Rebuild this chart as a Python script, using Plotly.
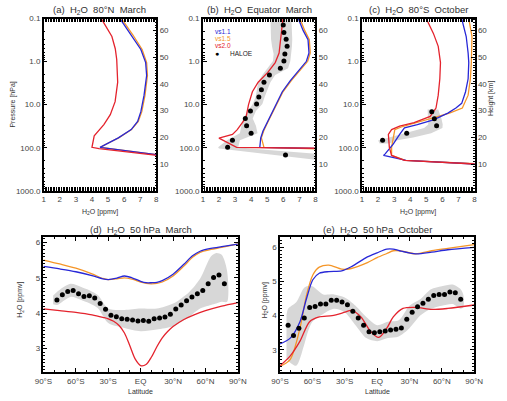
import plotly.graph_objects as go

W, H = 507, 401
BLUE = "rgb(40,40,215)"
ORANGE = "rgb(245,150,40)"
RED = "rgb(228,35,45)"
BAND = "rgb(215,215,215)"
FONT = "Liberation Sans, Arial, sans-serif"

# ---------------- Panel (a): 80N March ----------------
a_red_p = [0.1, 0.26, 0.5, 0.89, 3.0, 8.5, 17, 29, 53, 75, 98, 105, 150, 165]
a_red_x = [4.58, 5.24, 5.45, 5.54, 5.6, 5.44, 5.14, 4.74, 4.14, 4.04, 4.0, 4.44, 8.0, 9.0]
a_blue_p = [0.1, 0.24, 0.52, 1.05, 2.1, 6, 14.5, 24.6, 38, 59, 83, 98, 145, 160]
a_blue_x = [5.74, 6.44, 7.04, 7.34, 7.4, 7.24, 7.04, 6.84, 6.44, 5.64, 4.84, 4.5, 8.0, 9.0]
a_orange_p = [0.1, 0.24, 0.52, 1.05, 2.1, 6, 14.5, 24.6, 38, 59, 83, 98, 145, 160]
a_orange_x = [5.84, 6.55, 7.12, 7.4, 7.45, 7.3, 7.1, 6.88, 6.46, 5.66, 4.86, 4.52, 8.0, 9.0]

# ---------------- Panel (b): Equator March ----------------
b_red_p = [0.1, 0.26, 0.63, 1.05, 1.78, 3.0, 5.0, 10, 20, 38, 49, 60, 98, 103, 108]
b_red_x = [5.98, 5.84, 5.74, 5.5, 5.04, 4.44, 4.08, 3.84, 3.68, 3.14, 2.84, 2.0, 3.1, 8.0, 9.0]
b_blue_p = [0.1, 0.19, 0.31, 0.63, 0.98, 1.48, 2.75, 5.0, 8.5, 14.5, 24.7, 41, 59, 98, 104, 108]
b_blue_x = [6.94, 7.24, 7.54, 7.6, 7.44, 7.04, 6.44, 5.94, 5.64, 5.34, 5.04, 4.74, 4.6, 4.54, 8.0, 9.0]
b_orange_p = [0.1, 0.19, 0.31, 0.63, 0.98, 1.48, 2.75, 5.0, 8.5, 14.5, 24.7, 41, 59, 98, 104, 108]
b_orange_x = [7.04, 7.34, 7.62, 7.68, 7.52, 7.1, 6.5, 5.98, 5.66, 5.36, 5.06, 4.78, 4.64, 4.8, 8.0, 9.0]
b_haloe_p = [0.097, 0.14, 0.21, 0.30, 0.44, 0.66, 0.97, 1.42, 2.05, 3.0, 4.5, 6.6, 9.7,
             14.1, 21, 31, 46, 67, 98, 147]
b_haloe_x = [6.16, 6.0, 6.04, 6.18, 6.24, 6.1, 6.04, 5.82, 5.14, 4.8, 4.64, 4.48, 4.34,
             3.96, 3.64, 3.72, 4.0, 2.84, 2.54, 6.14]
b_band_p = [0.09, 0.14, 0.21, 0.30, 0.44, 0.66, 0.97, 1.42, 2.05, 3.0, 4.5, 6.6, 9.7,
            14.1, 21, 31, 46, 67, 98, 105, 147, 190]
b_band_lo = [5.2, 5.2, 5.22, 5.24, 5.3, 5.4, 5.36, 5.04, 4.7, 4.44, 4.36, 4.28, 4.1,
             3.8, 3.5, 3.4, 3.3, 2.5, 1.95, 2.0, 5.4, 8.0]
b_band_hi = [6.5, 6.54, 6.55, 6.56, 6.54, 6.5, 6.44, 6.3, 5.5, 5.2, 5.0, 4.84, 4.7,
             4.3, 4.1, 4.3, 4.4, 3.3, 3.2, 3.9, 9.0, 9.0]

# ---------------- Panel (c): 80S October ----------------
c_red_p = [0.1, 0.22, 0.44, 1.05, 2.5, 6, 12, 18.7, 26, 31.6, 38, 49, 98, 151, 198, 236, 250]
c_red_x = [5.0, 5.44, 5.74, 5.88, 5.84, 5.74, 5.6, 5.24, 4.24, 3.34, 2.84, 2.64, 2.7, 2.84,
           3.64, 8.0, 9.0]
c_blue_p = [0.1, 0.26, 0.63, 1.05, 2.5, 5.0, 9.3, 12, 15.7, 22.5, 29, 34.5, 49, 83, 139,
            151, 198, 236, 250]
c_blue_x = [7.2, 7.48, 7.6, 7.64, 7.6, 7.44, 7.2, 6.84, 6.34, 5.44, 4.44, 3.64, 3.34, 2.94,
            2.44, 2.34, 3.74, 8.0, 9.0]
c_orange_p = [0.1, 0.26, 1.05, 2.5, 6, 8.5, 12, 15.7, 20, 26, 33, 38, 70, 98, 151, 198, 236, 250]
c_orange_x = [7.64, 7.84, 7.8, 7.74, 7.6, 7.44, 7.24, 6.44, 5.44, 4.44, 3.44, 3.04, 2.94,
              2.84, 2.84, 3.7, 8.0, 9.0]
c_haloe_p = [14.5, 21.3, 31, 46, 67]
c_haloe_x = [5.34, 5.5, 5.64, 3.78, 2.28]
c_band_p = [13, 21, 29, 35, 46, 58, 68, 80]
c_band_lo = [5.08, 5.08, 5.12, 4.86, 3.68, 2.64, 2.0, 2.1]
c_band_hi = [5.74, 5.94, 6.02, 6.0, 5.3, 4.18, 3.1, 2.7]

# ---------------- Panel (d): 50 hPa March ----------------
d_lat = [-90, -75, -60, -45, -35, -30, -22, -15, -8, 0, 5, 10, 15, 20, 30, 40, 48, 55, 65, 75, 90]
d_blue = [5.32, 5.25, 5.17, 5.06, 4.97, 4.95, 4.99, 5.05, 5.0, 4.9, 4.86, 4.86, 4.87, 4.92,
          5.1, 5.38, 5.62, 5.75, 5.83, 5.88, 5.95]
d_orange = [5.5, 5.39, 5.27, 5.11, 4.98, 4.95, 4.97, 5.0, 4.96, 4.88, 4.84, 4.83, 4.84,
            4.88, 5.05, 5.33, 5.58, 5.72, 5.8, 5.86, 5.96]
d_red_lat = [-90, -75, -60, -45, -35, -30, -25, -20, -15, -10, -5, 0, 5, 10, 15, 20, 25,
             30, 40, 50, 60, 75, 90]
d_red = [4.12, 4.07, 4.02, 3.95, 3.88, 3.84, 3.77, 3.65, 3.44, 3.08, 2.7, 2.52, 2.55, 2.76,
         3.05, 3.3, 3.48, 3.62, 3.82, 3.96, 4.07, 4.2, 4.3]
d_haloe_lat = [-77.5 + 5 * i for i in range(32)]
d_haloe = [4.37, 4.52, 4.61, 4.64, 4.55, 4.47, 4.49, 4.43, 4.27, 4.11, 3.94, 3.90, 3.84,
           3.83, 3.81, 3.78, 3.79, 3.77, 3.84, 3.86, 3.89, 3.97, 4.12, 4.23, 4.35, 4.46,
           4.55, 4.64, 4.83, 5.01, 5.08, 4.83]
d_band_lat = [-81, -77.5, -65, -55, -40, -30, -15, 0, 15, 30, 45, 55, 65, 70, 75, 80]
d_band_lo = [4.25, 4.23, 4.46, 4.37, 4.15, 3.72, 3.58, 3.49, 3.54, 3.63, 3.9, 4.13, 4.23,
             4.27, 4.32, 4.32]
d_band_hi = [4.5, 4.6, 4.83, 4.74, 4.52, 4.13, 4.09, 4.13, 4.13, 4.27, 4.6, 4.97, 5.6,
             5.7, 5.65, 5.2]

# ---------------- Panel (e): 50 hPa October ----------------
e_lat = [-90, -80.5, -71.5, -65.6, -59.6, -53.6, -44.7, -32.8, -24, -9, 0, 9, 15, 20.9,
         35.8, 50.7, 65.5, 90]
e_blue = [3.17, 3.34, 3.82, 4.48, 5.05, 5.24, 5.29, 5.31, 5.43, 5.72, 5.84, 5.95, 5.95,
          5.9, 5.81, 5.86, 5.93, 6.0]
e_orange = [2.51, 2.72, 3.63, 4.58, 5.19, 5.42, 5.48, 5.36, 5.38, 5.55, 5.7, 5.82, 5.9,
            5.9, 5.81, 5.9, 5.97, 6.08]
e_red_lat = [-90, -80.5, -71.5, -62.6, -53.6, -41.7, -29.8, -24, -15, -5.9, 1.5, 9, 15,
             24, 35.8, 50.7, 65.5, 90]
e_red = [2.53, 2.82, 3.25, 3.82, 3.96, 4.0, 4.1, 4.15, 3.96, 3.53, 3.36, 3.63, 3.96, 4.21,
         4.24, 4.18, 4.21, 4.31]
e_haloe_lat = [-82.5 + 5 * i for i in range(33)]
e_haloe = [3.72, 3.42, 3.63, 3.93, 4.24, 4.27, 4.34, 4.34, 4.45, 4.45, 4.40, 4.32, 4.13,
           3.93, 3.72, 3.53, 3.50, 3.53, 3.55, 3.58, 3.60, 3.64, 3.89, 4.10, 4.26, 4.36,
           4.48, 4.59, 4.62, 4.62, 4.69, 4.67, 4.48]
e_band_lat = [-84, -82.5, -75, -68, -65, -60, -50, -40, -30, -20, -10, 0, 10, 20, 30, 40,
              50, 60, 70, 77.5, 80]
e_band_lo = [2.75, 2.68, 2.53, 3.1, 3.44, 3.82, 4.05, 4.2, 4.1, 3.72, 3.34, 3.25, 3.34,
             3.39, 3.63, 4.0, 4.2, 4.29, 4.34, 4.2, 4.25]
e_band_hi = [4.0, 4.2, 4.39, 4.8, 4.86, 4.86, 4.62, 4.62, 4.53, 4.29, 3.96, 3.72, 3.82,
             3.86, 4.29, 4.48, 4.77, 4.86, 4.91, 4.77, 4.6]

fig = go.Figure()


def band(xa, ya, lo, hi, level, horizontal):
    if horizontal:  # profile panels: x is value, y is pressure
        xs = list(lo) + list(hi)[::-1]
        ys = list(level) + list(level)[::-1]
        shape = "linear"
    else:
        xs = list(level) + list(level)[::-1]
        ys = list(lo) + list(hi)[::-1]
        shape = "spline"
    fig.add_trace(go.Scatter(x=xs, y=ys, fill="toself", fillcolor=BAND, mode="lines",
                             line=dict(width=0, shape=shape, smoothing=0.8),
                             xaxis=xa, yaxis=ya, showlegend=False, hoverinfo="skip"))


def line(xa, ya, x, y, color, shape="linear"):
    fig.add_trace(go.Scatter(x=x, y=y, mode="lines",
                             line=dict(color=color, width=1.3, shape=shape, smoothing=0.8),
                             xaxis=xa, yaxis=ya, showlegend=False))


def dots(xa, ya, x, y):
    fig.add_trace(go.Scatter(x=x, y=y, mode="markers", marker=dict(color="black", size=5),
                             xaxis=xa, yaxis=ya, showlegend=False, cliponaxis=False))


# (a)
line("x", "y", a_orange_x, a_orange_p, ORANGE)
line("x", "y", a_blue_x, a_blue_p, BLUE)
line("x", "y", a_red_x, a_red_p, RED)
# (b)
band("x2", "y2", b_band_lo, b_band_hi, b_band_p, True)
line("x2", "y2", b_orange_x, b_orange_p, ORANGE)
line("x2", "y2", b_blue_x, b_blue_p, BLUE)
line("x2", "y2", b_red_x, b_red_p, RED)
dots("x2", "y2", b_haloe_x, b_haloe_p)
# (c)
band("x3", "y3", c_band_lo, c_band_hi, c_band_p, True)
line("x3", "y3", c_orange_x, c_orange_p, ORANGE)
line("x3", "y3", c_blue_x, c_blue_p, BLUE)
line("x3", "y3", c_red_x, c_red_p, RED)
dots("x3", "y3", c_haloe_x, c_haloe_p)
# (d)
band("x4", "y4", d_band_lo, d_band_hi, d_band_lat, False)
line("x4", "y4", d_lat, d_orange, ORANGE, "spline")
line("x4", "y4", d_lat, d_blue, BLUE, "spline")
line("x4", "y4", d_red_lat, d_red, RED, "spline")
dots("x4", "y4", d_haloe_lat, d_haloe)
# (e)
band("x5", "y5", e_band_lo, e_band_hi, e_band_lat, False)
line("x5", "y5", e_lat, e_orange, ORANGE, "spline")
line("x5", "y5", e_lat, e_blue, BLUE, "spline")
line("x5", "y5", e_red_lat, e_red, RED, "spline")
dots("x5", "y5", e_haloe_lat, e_haloe)

# invisible anchors for the height axes
HMAX = 7.0 * 9.2103404  # 7 km scale height, 1000 -> 0.1 hPa
for ya in ["y6", "y7", "y8"]:
    xa = {"y6": "x", "y7": "x2", "y8": "x3"}[ya]
    fig.add_trace(go.Scatter(x=[1], y=[10], mode="markers", marker=dict(opacity=0),
                             xaxis=xa, yaxis=ya, showlegend=False, hoverinfo="skip"))

TICKFONT = dict(family=FONT, size=8, color="#444")


def base(**kw):
    d = dict(showline=True, linecolor="black", linewidth=1.5, ticks="inside", ticklen=4,
             tickwidth=1, tickcolor="black", showgrid=False, zeroline=False,
             tickfont=TICKFONT, fixedrange=True)
    d.update(kw)
    return d


def px2x(p):
    return p / W


def px2y(p):
    return 1 - p / H


top_dom_y = [px2y(191), px2y(15)]
top_x_doms = [[px2x(36), px2x(152.7)], [px2x(201), px2x(317.7)], [px2x(366), px2x(482.7)]]
minor_p = [k * 10 ** e for e in range(-1, 3) for k in range(2, 10)]

layout = dict(width=W, height=H, margin=dict(l=0, r=0, t=0, b=0),
              paper_bgcolor="white", plot_bgcolor="white", showlegend=False,
              font=dict(family=FONT, size=8, color="#444"))

for i, dom in enumerate(top_x_doms):
    n = "" if i == 0 else str(i + 1)
    layout["xaxis" + n] = base(domain=dom, range=[1, 8], tickvals=list(range(1, 9)),
                               anchor="y" + n, mirror="allticks",
                               minor=dict(ticks="inside", ticklen=2, dtick=0.1,
                                          tickcolor="black", showgrid=False))
    layout["yaxis" + n] = base(domain=top_dom_y, type="log", range=[3, -1], anchor="x" + n,
                               tickvals=[0.1, 1, 10, 100, 1000],
                               ticktext=["0.1", "1.0", "10.0", "100.0", "1000.0"],
                               mirror=True,
                               minor=dict(ticks="inside", ticklen=2, tickvals=minor_p,
                                          tickcolor="black", showgrid=False))
    hn = str(i + 6)
    layout["yaxis" + hn] = base(overlaying="y" + n, side="right", anchor="x" + n,
                                range=[0, HMAX], tickvals=[10, 20, 30, 40, 50, 60],
                                minor=dict(ticks="inside", ticklen=2, dtick=1,
                                           tickcolor="black", showgrid=False))

bot_dom_y = [px2y(376.7), px2y(238.8)]
lat_text = ["90°S", "60°S", "30°S", "EQ", "30°N", "60°N", "90°N"]
layout["xaxis4"] = base(domain=[px2x(35.7), px2x(237.3)], range=[-90, 90], anchor="y4",
                        tickvals=[-90, -60, -30, 0, 30, 60, 90], ticktext=lat_text,
                        mirror="allticks",
                        minor=dict(ticks="inside", ticklen=2, dtick=10, tickcolor="black"))
layout["yaxis4"] = base(domain=bot_dom_y, range=[2.33, 6.14], anchor="x4",
                        tickvals=[3, 4, 5, 6], mirror="allticks",
                        minor=dict(ticks="inside", ticklen=2, dtick=0.1, tickcolor="black"))
layout["xaxis5"] = base(domain=[px2x(281), px2x(482.3)], range=[-90, 90], anchor="y5",
                        tickvals=[-90, -60, -30, 0, 30, 60, 90], ticktext=lat_text,
                        mirror="allticks",
                        minor=dict(ticks="inside", ticklen=2, dtick=10, tickcolor="black"))
layout["yaxis5"] = base(domain=bot_dom_y, range=[2.34, 6.29], anchor="x5",
                        tickvals=[3, 4, 5, 6], mirror="allticks",
                        minor=dict(ticks="inside", ticklen=2, dtick=0.1, tickcolor="black"))

fig.update_layout(**layout)

NB = "\u00a0"
H2O = "H<sub>2</sub>O"
ann = []


def text(x, y, s, size=9, color="#333", angle=0, xanchor="center"):
    ann.append(dict(x=px2x(x), y=px2y(y), xref="paper", yref="paper", text=s,
                    showarrow=False, xanchor=xanchor, yanchor="middle", textangle=angle,
                    font=dict(family=FONT, size=size, color=color)))


sp = NB * 2
text(94.3, 6, "(a)" + sp + H2O + sp + "80°N" + sp + "March", 9.5)
text(259.3, 6, "(b)" + sp + H2O + sp + "Equator" + sp + "March", 9.5)
text(424.3, 6, "(c)" + sp + H2O + sp + "80°S" + sp + "October", 9.5)
text(136.5, 231.5, "(d)" + sp + H2O + sp + "50 hPa" + sp + "March", 9.5)
text(381.7, 231.5, "(e)" + sp + H2O + sp + "50 hPa" + sp + "October", 9.5)
text(94.3, 213, H2O + " [ppmv]", 7)
text(424.3, 213, H2O + " [ppmv]", 7)
text(136.5, 396.5, "Latitude", 7)
text(381.7, 396.5, "Latitude", 7)
text(4, 103, "Pressure [hPa]", 7, angle=-90)
text(500, 97, "Height [km]", 7, angle=-90)
text(12, 303, H2O + " [ppmv]", 7, angle=-90)
text(265.5, 303, H2O + " [ppmv]", 7, angle=-90)
# legend in (b)
text(211.5, 28.0, "vs1.1", 6.5, BLUE, xanchor="left")
text(211.5, 35.3, "vs1.5", 6.5, ORANGE, xanchor="left")
text(211.5, 42.6, "vs2.0", 6.5, RED, xanchor="left")
text(215.7, 50.3, "●", 7, "black")
text(227.5, 50.3, "HALOE", 6.5, "#222", xanchor="left")

fig.update_layout(annotations=ann)
fig.write_html("out.html")
